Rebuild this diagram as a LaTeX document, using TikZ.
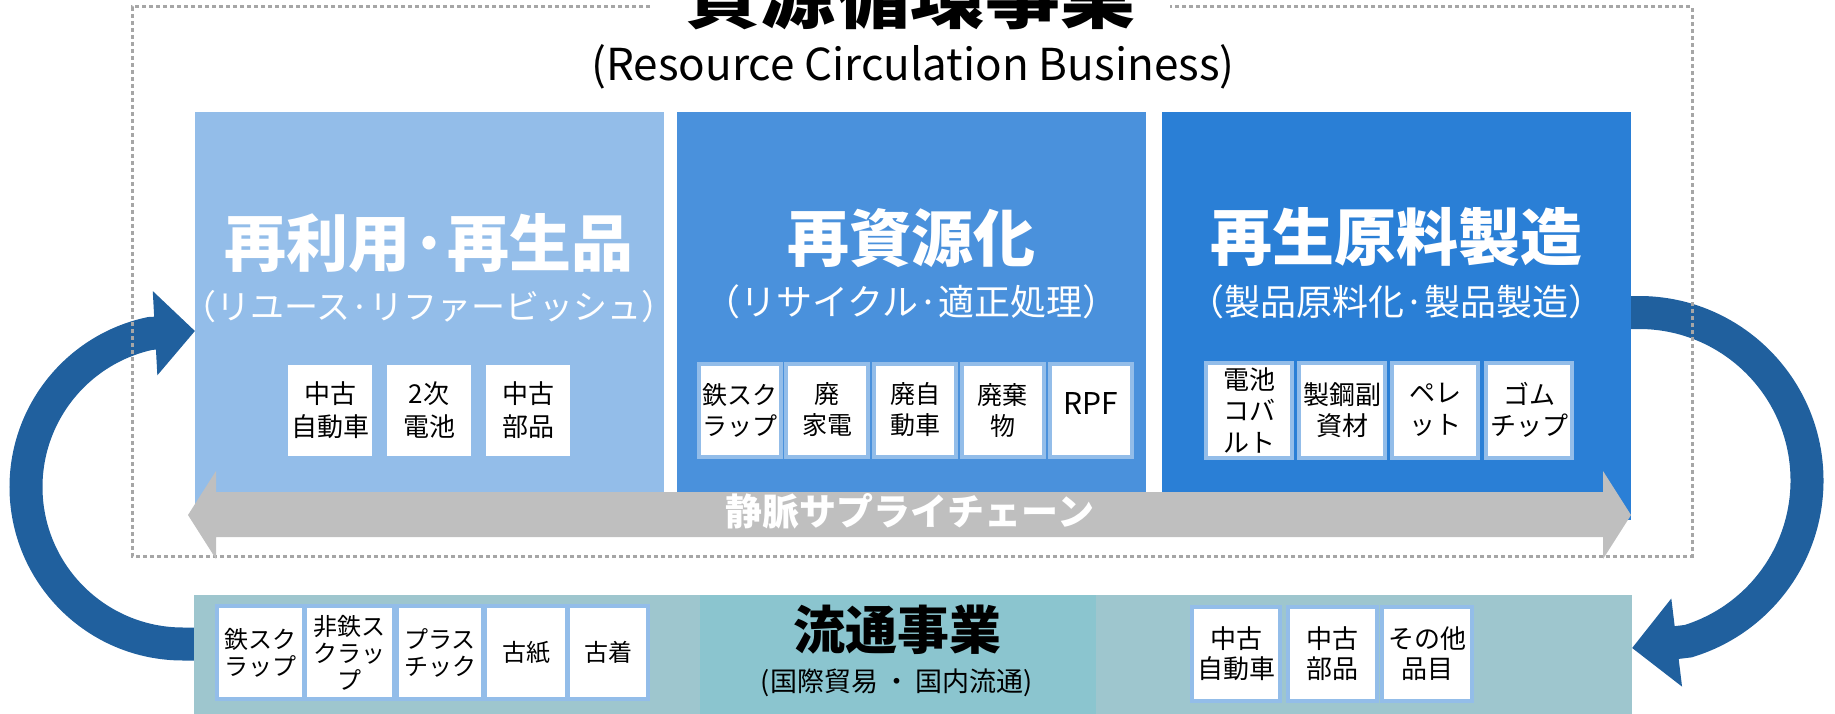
\documentclass[tikz,border=0pt]{standalone}
\usepackage{fontspec}
\setmainfont{Noto Sans CJK JP}
\usetikzlibrary{arrows.meta}
\definecolor{boxA}{HTML}{93BDE9}
\definecolor{boxB}{HTML}{4A91DC}
\definecolor{boxC}{HTML}{2A7FD6}
\definecolor{arrowgray}{HTML}{BFBFBF}
\definecolor{cyc}{HTML}{20609E}
\definecolor{bandA}{HTML}{9EC6CE}
\definecolor{bandB}{HTML}{8BC5CF}
\definecolor{dashgray}{HTML}{A6A6A6}
\newcommand{\fsz}[2]{\fontsize{#1}{#2}\selectfont}
\tikzset{
  panel/.style={inner sep=0pt, minimum height=408pt, minimum width=469pt},
  ptitle/.style={text=white, font=\fsz{62}{70}\bfseries, inner sep=0pt},
  psub/.style={text=white, font=\fsz{36}{40}, inner sep=0pt},
  item/.style={fill=white, draw=boxA, line width=4pt, inner sep=0pt, align=center, text=black},
  itemP/.style={item, minimum width=82pt, minimum height=93pt, font=\fsz{25}{31}},
  itemR/.style={item, minimum width=86pt, minimum height=95pt, font=\fsz{26}{31.5}},
  itemL/.style={fill=white, inner sep=0pt, align=center, text=black, minimum width=84pt, minimum height=91pt, font=\fsz{26}{33}},
  itemB/.style={item, minimum height=93pt, font=\fsz{24}{27}},
  itemC/.style={item, minimum height=94pt, font=\fsz{26}{30}},
  cycarrow/.style={cyc, line width=33pt},
}
\begin{document}
\begin{tikzpicture}[x=1pt,y=-1pt]
\useasboundingbox (0,0) rectangle (1835,714);
\clip (0,0) rectangle (1835,714);

% circular arrows
\coordinate (la0) at (195,644);
\coordinate (la1) at (183,644);
\coordinate (laE) at (195,331);
\draw[cycarrow, -{Triangle[length=40pt,width=82pt]}] (la0) -- (la1) arc[start angle=90, end angle=258, radius=157] -- (laE);
\coordinate (ra0) at (1631,312.5);
\coordinate (ra1) at (1639,312.5);
\coordinate (raE) at (1632,648);
\draw[cycarrow, -{Triangle[length=45pt,width=86pt]}] (ra0) -- (ra1) arc[start angle=-90, end angle=73, radius=168] -- (raE);

% dotted frame
\draw[dashgray, line width=3pt, dash pattern=on 4pt off 3pt] (650,7) -- (132,7) -- (132,556) -- (1692,556) -- (1692,7) -- (1170,7);

% titles
\node[font=\fsz{75}{80}\bfseries, inner sep=0pt] (title) at (910,-6) {資源循環事業};
\node[font=\fsz{44}{50}, inner sep=0pt] (subtitle) at (913,67) {(Resource Circulation Business)};

% panels
\node[panel, fill=boxA] (pA) at (429,316) {};
\node[panel, fill=boxB] (pB) at (911.5,316) {};
\node[panel, fill=boxC] (pC) at (1396.5,316) {};

\node[ptitle] (tA) at (429,243) {再利用·再生品};
\node[psub, font=\fsz{34}{40}] (sA) at (429,307) {（リユース·リファービッシュ）};
\node[ptitle] (tB) at (911.5,238) {再資源化};
\node[psub] (sB) at (911.5,302) {（リサイクル·適正処理）};
\node[ptitle] (tC) at (1396.5,237) {再生原料製造};
\node[psub] (sC) at (1396.5,302) {（製品原料化·製品製造）};

% panel A items
\node[itemL] (l1) at (330,410) {中古\\自動車};
\node[itemL] (l2) at (429,410) {2次\\電池};
\node[itemL] (l3) at (528,410) {中古\\部品};

% panel B items
\node[itemP] (m1) at (739.5,410) {鉄スク\\ラップ};
\node[itemP] (m2) at (827,410) {廃\\家電};
\node[itemP] (m3) at (915,410) {廃自\\動車};
\node[itemP] (m4) at (1002.5,410) {廃棄\\物};
\node[itemP, font=\fsz{30}{34}] (m5) at (1091,410) {\raisebox{6pt}[\height][\depth]{RPF}};

% panel C items
\node[itemR] (r1) at (1249,410) {電池\\コバ\\ルト};
\node[itemR] (r2) at (1342,410) {製鋼副\\資材};
\node[itemR] (r3) at (1435,410) {ペレ\\ット};
\node[itemR] (r4) at (1529,410) {ゴム\\チップ};

% grey double arrow
\fill[arrowgray] (188,515) -- (216,471) -- (216,492) -- (1603,492) -- (1603,471) -- (1631,515) -- (1603,559) -- (1603,537) -- (216,537) -- (216,559) -- cycle;
\node[text=white, font=\fsz{37}{40}\bfseries, inner sep=0pt] (vein) at (910,511) {静脈サプライチェーン};

% distribution band
\fill[bandA] (194,595) rectangle (700,714);
\fill[bandB] (700,595) rectangle (1096,714);
\fill[bandA] (1096,595) rectangle (1632,714);
\node[font=\fsz{52}{56}\bfseries, inner sep=0pt] (dist) at (897,630) {流通事業};
\node[font=\fsz{27}{30}, inner sep=0pt] (distsub) at (897,683) {(国際貿易\hspace{0.2em}・\hspace{0.2em}国内流通)};

\node[itemB, minimum width=87pt] (b1) at (260.5,652.5) {鉄スク\\ラップ};
\node[itemB, minimum width=89pt] (b2) at (349.5,652.5) {非鉄ス\\クラッ\\プ};
\node[itemB, minimum width=86pt] (b3) at (440,652.5) {プラス\\チック};
\node[itemB, minimum width=82pt] (b4) at (526,652.5) {古紙};
\node[itemB, minimum width=80pt] (b5) at (608,652.5) {古着};

\node[itemC, minimum width=88pt] (c1) at (1236,654) {中古\\自動車};
\node[itemC, minimum width=89pt] (c2) at (1332.5,654) {中古\\部品};
\node[itemC, minimum width=90pt] (c3) at (1427,654) {その他\\品目};
\end{tikzpicture}
\end{document}
